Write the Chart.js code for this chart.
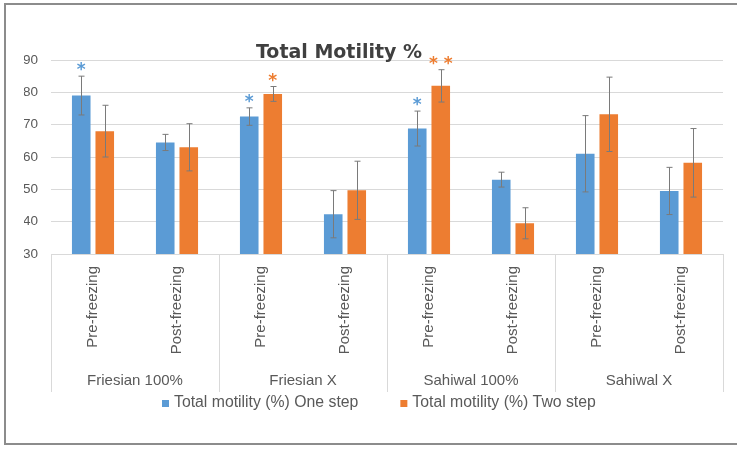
<!DOCTYPE html>
<html>
<head>
<meta charset="utf-8">
<script src="https://cdn.jsdelivr.net/npm/chart.js@4.4.1/dist/chart.umd.min.js"></script>
<style>
  html, body { margin: 0; padding: 0; background: #fff; }
  #wrap { position: relative; width: 737px; height: 449px; overflow: hidden; }
  #frame { position: absolute; left: 4px; top: 3px; width: 760px; height: 442px;
           border: 2px solid #8c8c8c; box-sizing: border-box; }
  #c { position: absolute; left: 0; top: 0; }
</style>
</head>
<body>
<div id="wrap">
  <div id="frame"></div>
  <canvas id="c" width="737" height="449"></canvas>
</div>
<script>
// Breeds (outer category level) and sampling stages (inner level)
const groups = ['Friesian 100%', 'Friesian X', 'Sahiwal 100%', 'Sahiwal X'];
const stages = ['Pre-freezing', 'Post-freezing', 'Pre-freezing', 'Post-freezing',
                'Pre-freezing', 'Post-freezing', 'Pre-freezing', 'Post-freezing'];

// Total motility (%) means and standard deviations
const oneStep    = [79, 64.5, 72.5, 42.3, 68.8, 53, 61, 49.5];
const oneStepErr = [6, 2.5, 2.7, 7.3, 5.4, 2.3, 11.8, 7.3];
const twoStep    = [68, 63, 79.5, 49.7, 82, 39.5, 73.2, 58.2];
const twoStepErr = [8, 7.3, 2.3, 9, 5, 4.8, 11.5, 10.6];

// Significance markers: [dataset index, bar index, text]
const marks = [[0, 0, '*'], [0, 2, '*'], [1, 2, '*'], [0, 4, '*'], [1, 4, '* *']];

const yTicks = { min: 30, max: 90, step: 10 };

const BLUE = '#5B9BD5', ORANGE = '#ED7D31', TEXT = '#595959', GRID = '#d9d9d9';

const extras = {
  id: 'extras',
  afterDraw(chart) {
    const ctx = chart.ctx, ys = chart.scales.y, xs = chart.scales.x, x2 = chart.scales.x2;
    const area = chart.chartArea;
    ctx.save();

    // group separators running through the label area
    const seps = [area.left];
    for (let i = 1; i < groups.length; i++) {
      seps.push((xs.getPixelForValue(2 * i - 1) + xs.getPixelForValue(2 * i)) / 2);
    }
    seps.push(area.right);
    ctx.strokeStyle = GRID; ctx.lineWidth = 1;
    seps.forEach(sx => {
      const px = Math.round(sx) + 0.5;
      ctx.beginPath(); ctx.moveTo(px, area.bottom); ctx.lineTo(px, x2.bottom); ctx.stroke();
    });

    // error bars
    ctx.strokeStyle = '#7a7a7a'; ctx.lineWidth = 1;
    chart.data.datasets.forEach((ds, di) => {
      chart.getDatasetMeta(di).data.forEach((bar, i) => {
        const v = ds.data[i], e = ds.errors[i];
        const t = ys.getPixelForValue(v + e), b = ys.getPixelForValue(v - e);
        const bx = Math.round(bar.x) + 0.5;
        ctx.beginPath();
        ctx.moveTo(bx, t); ctx.lineTo(bx, b);
        ctx.moveTo(bx - 3, t); ctx.lineTo(bx + 3, t);
        ctx.moveTo(bx - 3, b); ctx.lineTo(bx + 3, b);
        ctx.stroke();
      });
    });

    // significance asterisks above the error bars
    ctx.font = 'bold 17px "DejaVu Sans"';
    ctx.textAlign = 'center'; ctx.textBaseline = 'alphabetic';
    marks.forEach(([di, i, txt]) => {
      const ds = chart.data.datasets[di];
      const bar = chart.getDatasetMeta(di).data[i];
      const t = ys.getPixelForValue(ds.data[i] + ds.errors[i]);
      ctx.fillStyle = ds.backgroundColor;
      ctx.fillText(txt, bar.x, t - 1);
    });

    // title
    ctx.font = 'bold 19px "DejaVu Sans"';
    ctx.fillStyle = '#404040';
    ctx.textAlign = 'center';
    ctx.fillText('Total Motility %', area.left + 288, area.top - 2);

    // legend
    ctx.font = '15.8px "Liberation Sans"';
    ctx.textBaseline = 'middle'; ctx.textAlign = 'left';
    const items = chart.data.datasets.map(d => ({ text: d.label, color: d.backgroundColor }));
    const box = 7, gapBox = 5, gapItem = 42;
    let total = 0;
    items.forEach((it, k) => {
      it.w = ctx.measureText(it.text).width;
      total += box + gapBox + it.w + (k ? gapItem : 0);
    });
    let lx = Math.round((area.left + area.right) / 2 - 8 - total / 2);
    const ly = x2.bottom + 11;
    items.forEach(it => {
      ctx.fillStyle = it.color;
      ctx.fillRect(lx, ly - 3, box, box);
      lx += box + gapBox;
      ctx.fillStyle = TEXT;
      ctx.fillText(it.text, lx, ly);
      lx += it.w + gapItem;
    });

    ctx.restore();
  }
};

new Chart(document.getElementById('c'), {
  type: 'bar',
  data: {
    labels: stages,
    datasets: [
      { label: 'Total motility (%) One step', data: oneStep, errors: oneStepErr,
        backgroundColor: BLUE, categoryPercentage: 0.56, barPercentage: 0.79 },
      { label: 'Total motility (%) Two step', data: twoStep, errors: twoStepErr,
        backgroundColor: ORANGE, categoryPercentage: 0.56, barPercentage: 0.79 }
    ]
  },
  options: {
    responsive: false,
    animation: false,
    devicePixelRatio: 1,
    layout: { padding: { left: 24, right: 14, top: 60, bottom: 57 } },
    plugins: { legend: { display: false }, title: { display: false }, tooltip: { enabled: false } },
    scales: {
      y: {
        min: yTicks.min, max: yTicks.max,
        afterFit: s => { s.width = 27; },
        ticks: { stepSize: yTicks.step, color: TEXT, padding: 13,
                 font: { family: 'Liberation Sans', size: 13.5 } },
        grid: { color: GRID, drawTicks: false },
        border: { display: false }
      },
      x: {
        offset: true,
        afterFit: s => { s.height = 103; },
        grid: { display: false, drawTicks: false },
        border: { display: false },
        ticks: { minRotation: 90, maxRotation: 90, autoSkip: false, padding: 12, color: TEXT,
                 font: { family: 'Liberation Sans', size: 15 } }
      },
      x2: {
        type: 'category',
        position: 'bottom',
        weight: 1,
        labels: groups,
        offset: true,
        afterFit: s => { s.height = 35; },
        grid: { display: false, drawTicks: false },
        border: { display: false },
        ticks: { padding: 15, color: TEXT, font: { family: 'Liberation Sans', size: 15 } }
      }
    }
  },
  plugins: [extras]
});
</script>
</body>
</html>
